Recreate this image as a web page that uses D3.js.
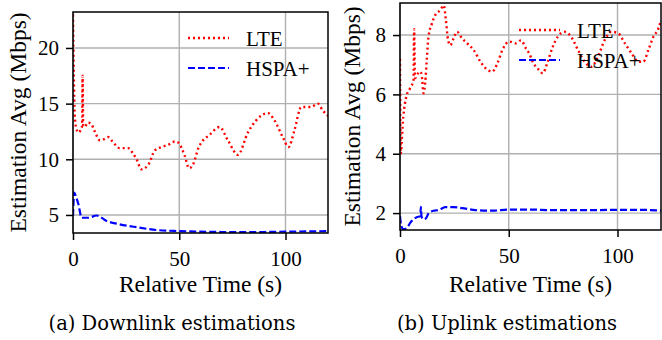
<!DOCTYPE html>
<html lang="en">
<head>
    <meta charset="UTF-8">
    <title>Estimation Avg</title>
    <script src="https://d3js.org/d3.v7.min.js"></script>
    <style>
        body {
            margin: 0;
            background: white;
        }
        .tick text {
            font-family: "Liberation Serif", serif;
            font-size: 21px;
            fill: #000;
        }
        .axis-label {
            font-family: "Liberation Serif", serif;
            font-size: 23.5px;
            fill: #000;
        }
        .legend-text {
            font-family: "Liberation Serif", serif;
            font-size: 21px;
            fill: #000;
        }
        .caption {
            font-family: "DejaVu Serif", serif;
            font-size: 19.5px;
            fill: #000;
        }
    </style>
</head>
<body>
    <div id="chart"></div>
    <script>
        const width = 662;
        const height = 340;

        // Downlink (a) readings: [time s, Mbps]
        const dlLte = [
            [0, 23.0], [0.4, 17.5], [0.8, 14.0], [1.5, 12.8], [2.5, 12.4], [3.5, 12.6],
            [4.3, 13.0], [4.5, 17.5], [4.8, 13.0], [5.5, 12.9], [7, 13.3], [8.5, 13.2],
            [10, 12.6], [12.7, 11.7], [14.5, 11.8], [16.4, 12.0], [19, 11.5], [22, 11.0],
            [26, 11.0], [28, 10.6], [29.9, 10.0], [32.2, 9.1], [35.4, 9.5], [38.5, 10.8],
            [41.6, 11.1], [44.8, 11.3], [47.9, 11.6], [49.5, 11.5], [52.6, 10.3], [54.6, 9.2],
            [56.4, 9.5], [59.2, 11.1], [60.4, 11.5], [64.3, 12.2], [69, 12.9], [72.9, 11.7],
            [77.6, 10.4], [82.3, 12.4], [86.2, 13.5], [91.7, 14.15], [94.8, 13.5], [98.7, 12.0],
            [101.4, 11.1], [104.2, 12.6], [107.4, 14.7], [112, 14.7], [115.2, 15.0],
            [117.5, 14.4], [120, 13.9]
        ];
        const dlHspa = [
            [0, 4.9], [0.6, 7.0], [1.5, 6.6], [2.5, 6.0], [4.1, 4.75], [7.2, 4.75], [11.1, 4.95],
            [15.8, 4.46], [22, 4.16], [29.9, 3.9], [39.3, 3.65], [50.2, 3.55], [59.6, 3.5],
            [70, 3.47], [80, 3.45], [90, 3.47], [100, 3.5], [110, 3.52], [120, 3.55]
        ];

        // Uplink (b) readings: [time s, Mbps]
        const ulLte = [
            [0, 7.2], [0.3, 4.0], [1.5, 5.25], [2.3, 5.7], [3.1, 5.98], [4.6, 6.2],
            [6.2, 6.48], [6.5, 8.2], [6.9, 6.55], [7.7, 6.65], [9.3, 6.77], [10, 6.65],
            [10.8, 6.04], [11.6, 6.4], [12.3, 7.16], [13.1, 7.94], [14.7, 8.39], [16.2, 8.67],
            [18.5, 8.84], [20.1, 9.0], [21.1, 8.5], [22.1, 7.83], [23.1, 7.66], [24.7, 7.9],
            [26.2, 8.11], [28.5, 7.89], [30.9, 7.72], [33.9, 7.49], [37, 7.1], [39.4, 6.88],
            [42.4, 6.77], [44.8, 7.05], [47.1, 7.5], [50.2, 7.78], [53.2, 7.72], [55.6, 7.82],
            [57.9, 7.55], [59.4, 7.38], [61, 7.1], [64, 6.82], [65.6, 6.71], [67.9, 7.1],
            [70.2, 7.6], [72.5, 7.94], [75.6, 8.11], [78.7, 7.94], [81.8, 7.5], [84.9, 7.1],
            [88, 6.93], [91, 7.27], [94.1, 7.83], [97.2, 8.11], [100.3, 8.06], [103.4, 7.72],
            [106.5, 7.38], [109.6, 7.1], [111.9, 7.1], [114.2, 7.5], [116.5, 7.94],
            [118.8, 8.22], [120, 8.5]
        ];
        const ulHspa = [
            [0, 1.9], [0.5, 1.6], [1.5, 1.46], [3.1, 1.49], [4.6, 1.66], [6.2, 1.79],
            [7.7, 1.86], [9.3, 1.9], [9.6, 2.21], [9.9, 1.88], [10.8, 1.79], [11.9, 1.82],
            [13.1, 1.99], [15.4, 2.08], [17.7, 2.1], [20.8, 2.2], [24.7, 2.2], [28.5, 2.17],
            [34.7, 2.1], [42.4, 2.08], [50.2, 2.12], [59.4, 2.12], [70, 2.1], [80, 2.1],
            [90, 2.1], [100, 2.11], [110, 2.11], [120, 2.08]
        ];

        const panels = [
            {
                lte: dlLte, hspa: dlHspa,
                x0: 73, x1: 328, y0: 12, y1: 233,
                yDomain: [3.38, 23.23], yTicks: [5, 10, 15, 20], labelGap: 47,
                legendX: 188, legendY: 38,
                caption: "(a) Downlink estimations", captionX: 172
            },
            {
                lte: ulLte, hspa: ulHspa,
                x0: 400, x1: 661, y0: 3, y1: 230,
                yDomain: [1.43, 9.08], yTicks: [2, 4, 6, 8], labelGap: 40,
                legendX: 519, legendY: 30,
                caption: "(b) Uplink estimations", captionX: 507
            }
        ];

        const svg = d3.select("#chart")
            .append("svg")
            .attr("width", width)
            .attr("height", height);

        panels.forEach(p => {
            const x = d3.scaleLinear().domain([0, 120]).range([p.x0, p.x1]);
            const y = d3.scaleLinear().domain(p.yDomain).range([p.y1, p.y0]);
            const g = svg.append("g");

            // grid
            g.selectAll(".gx").data([0, 50, 100]).enter().append("line")
                .attr("x1", d => x(d)).attr("x2", d => x(d))
                .attr("y1", p.y0).attr("y2", p.y1)
                .attr("stroke", "#b0b0b0").attr("stroke-width", 1.4);
            g.selectAll(".gy").data(p.yTicks).enter().append("line")
                .attr("x1", p.x0).attr("x2", p.x1)
                .attr("y1", d => y(d)).attr("y2", d => y(d))
                .attr("stroke", "#b0b0b0").attr("stroke-width", 1.4);

            // lines
            const clipId = "clip" + p.x0;
            svg.append("clipPath").attr("id", clipId).append("rect")
                .attr("x", p.x0).attr("y", p.y0)
                .attr("width", p.x1 - p.x0).attr("height", p.y1 - p.y0);

            const line = d3.line()
                .x(d => x(d[0]))
                .y(d => y(d[1]))
                .curve(d3.curveMonotoneX);

            g.append("path").datum(p.hspa)
                .attr("clip-path", `url(#${clipId})`)
                .attr("d", line).attr("fill", "none")
                .attr("stroke", "#0000ff").attr("stroke-width", 2.2)
                .attr("stroke-dasharray", "7,3");
            g.append("path").datum(p.lte)
                .attr("clip-path", `url(#${clipId})`)
                .attr("d", line).attr("fill", "none")
                .attr("stroke", "#ff0000").attr("stroke-width", 2.4)
                .attr("stroke-dasharray", "2,3");

            // axes
            const xAxis = g.append("g")
                .attr("transform", `translate(0,${p.y1})`)
                .call(d3.axisBottom(x).tickValues([0, 50, 100]).tickSize(7).tickPadding(10));
            const yAxis = g.append("g")
                .attr("transform", `translate(${p.x0},0)`)
                .call(d3.axisLeft(y).tickValues(p.yTicks).tickSize(7).tickPadding(7));
            [xAxis, yAxis].forEach(a => {
                a.select(".domain").remove();
                a.selectAll(".tick line").attr("stroke", "#000").attr("stroke-width", 1.5);
            });
            xAxis.selectAll(".tick text").attr("dy", "0.75em");

            // frame
            g.append("rect")
                .attr("x", p.x0).attr("y", p.y0)
                .attr("width", p.x1 - p.x0).attr("height", p.y1 - p.y0)
                .attr("fill", "none").attr("stroke", "#000").attr("stroke-width", 1.5);

            // labels
            g.append("text").attr("class", "axis-label")
                .attr("x", (p.x0 + p.x1) / 2).attr("y", 292)
                .attr("text-anchor", "middle")
                .text("Relative Time (s)");
            g.append("text").attr("class", "axis-label")
                .attr("transform", `translate(${p.x0 - p.labelGap},${(p.y0 + p.y1) / 2}) rotate(-90)`)
                .attr("text-anchor", "middle")
                .text("Estimation Avg (Mbps)");
            g.append("text").attr("class", "caption")
                .attr("x", p.captionX).attr("y", 330)
                .attr("text-anchor", "middle")
                .text(p.caption);

            // legend
            const leg = [
                { name: "LTE", color: "#ff0000", dash: "2,3", w: 2.4 },
                { name: "HSPA+", color: "#0000ff", dash: "7,3", w: 2.2 }
            ];
            leg.forEach((l, i) => {
                const ly = p.legendY + i * 30;
                g.append("line")
                    .attr("x1", p.legendX).attr("x2", p.legendX + 41)
                    .attr("y1", ly).attr("y2", ly)
                    .attr("stroke", l.color).attr("stroke-width", l.w)
                    .attr("stroke-dasharray", l.dash);
                g.append("text").attr("class", "legend-text")
                    .attr("x", p.legendX + 58).attr("y", ly + 8)
                    .text(l.name);
            });
        });
    </script>
</body>
</html>
